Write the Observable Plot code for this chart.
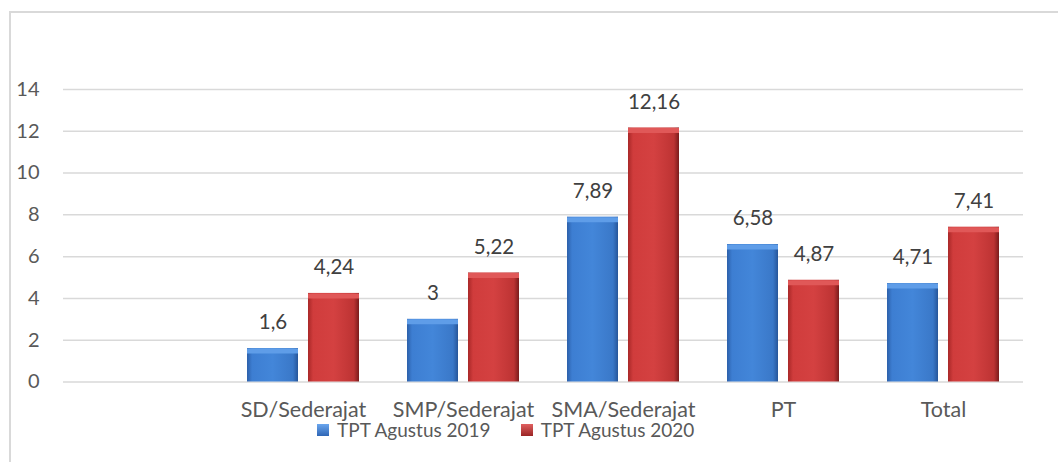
<!DOCTYPE html>
<html><head><meta charset="utf-8">
<script src="https://cdn.jsdelivr.net/npm/d3@7"></script>
<script src="https://cdn.jsdelivr.net/npm/@observablehq/plot@0.6"></script>
<style>
html,body{margin:0;padding:0;background:#fff;width:1058px;height:462px;overflow:hidden;font-family:Lato,sans-serif}
#frame{position:absolute;left:9px;top:11px;width:1100px;height:500px;border-left:2px solid #d9d9d9;border-top:2px solid #d9d9d9;box-sizing:border-box}
#chart{position:absolute;left:0;top:0}
#legend{position:absolute;top:419px;left:317px;display:flex;align-items:center;gap:30px;font-size:19px;color:#595959;line-height:22px}
.item{display:flex;align-items:center;gap:8px}
.sw{width:12px;height:12px;display:inline-block}
</style></head>
<body>
<div id="frame"></div>
<div id="chart"></div>
<div id="legend"></div>
<script>
const categories = ["SD/Sederajat", "SMP/Sederajat", "SMA/Sederajat", "PT", "Total"];
const series = ["TPT Agustus 2019", "TPT Agustus 2020"];
const values2019 = [1.6, 3, 7.89, 6.58, 4.71];
const values2020 = [4.24, 5.22, 12.16, 4.87, 7.41];
const yTicks = [0, 2, 4, 6, 8, 10, 12, 14];
const fills = ["url(#gBlue)", "url(#gRed)"];
const highlights = ["#5f9de8", "#e05858"];
const swatchCss = ["linear-gradient(180deg,#6aa6ee,#2f66b5)", "linear-gradient(180deg,#e06060,#9a2424)"];

const rows = [{cat: "", series: series[0], value: NaN}];
categories.forEach((c, i) => {
  rows.push({cat: c, series: series[0], value: values2019[i]});
  rows.push({cat: c, series: series[1], value: values2020[i]});
});
const fmt = v => String(v).replace(".", ",");

const chart = Plot.plot({
  width: 1058, height: 462,
  marginLeft: 62, marginRight: 35, marginTop: 89, marginBottom: 80.5,
  style: {fontFamily: "Lato, sans-serif", fontSize: "20px", color: "#595959", background: "transparent"},
  fx: {domain: ["", ...categories], padding: 0, label: null},
  x: {domain: series, paddingInner: 0.164, paddingOuter: 0.393, axis: null},
  y: {domain: [0, 14], label: null},
  color: {type: "ordinal", domain: series, range: fills},
  marks: [
    Plot.ruleY(yTicks, {stroke: "#d9d9d9", strokeWidth: 1.5}),
    Plot.axisY(yTicks, {tickSize: 0, tickPadding: 24, fontSize: 20, fill: "#595959", label: null}),
    Plot.axisFx({anchor: "bottom", tickSize: 0, tickPadding: 20, fontSize: 21.5, fill: "#595959", label: null}),
    Plot.barY(rows, {fx: "cat", x: "series", y: "value", fill: "series"}),
    ...series.map((s, i) => Plot.tickY(rows, {filter: d => d.series === s, fx: "cat", x: "series", y: "value", stroke: highlights[i], strokeWidth: 5, dy: 2.5})),
    Plot.text(rows, {fx: "cat", x: "series", y: "value", text: d => fmt(d.value), dy: -26, fill: "#404040", fontSize: 20.5})
  ]
});

const svg = d3.select(chart);
const defs = svg.insert("defs", ":first-child");
const gb = defs.append("linearGradient").attr("id", "gBlue").attr("x1", 0).attr("x2", 1).attr("y1", 0).attr("y2", 0);
[[0, "#2c60aa"], [0.1, "#3d7ed2"], [0.5, "#4386d9"], [0.9, "#3a78c8"], [1, "#27569a"]].forEach(([o, c]) => gb.append("stop").attr("offset", o).attr("stop-color", c));
const gr = defs.append("linearGradient").attr("id", "gRed").attr("x1", 0).attr("x2", 1).attr("y1", 0).attr("y2", 0);
[[0, "#a82828"], [0.1, "#d03c3c"], [0.5, "#d44141"], [0.9, "#bd3333"], [1, "#7a1c1c"]].forEach(([o, c]) => gr.append("stop").attr("offset", o).attr("stop-color", c));

document.getElementById("chart").appendChild(chart);

const legend = d3.select("#legend");
series.forEach((s, i) => {
  const it = legend.append("div").attr("class", "item");
  it.append("span").attr("class", "sw").style("background", swatchCss[i]);
  it.append("span").text(s);
});
</script>
</body></html>
